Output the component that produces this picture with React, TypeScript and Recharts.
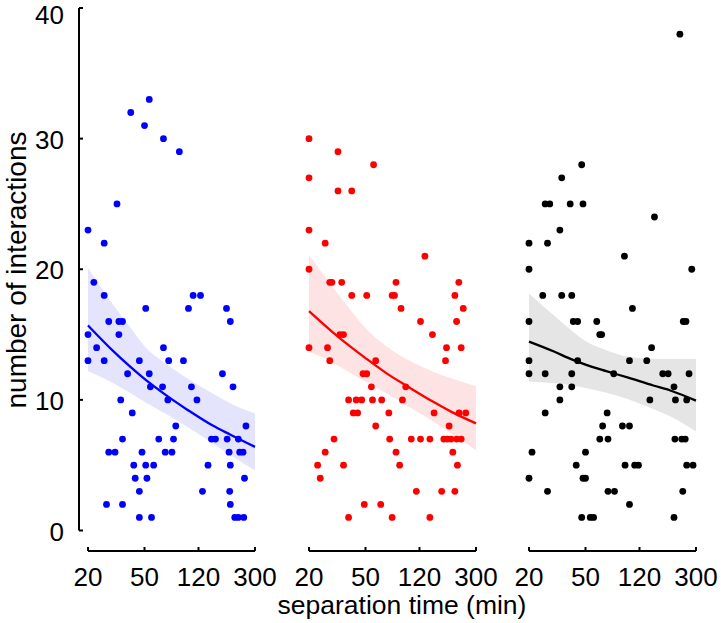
import React from 'react';
import { ComposedChart, Scatter, Line, Area, XAxis, YAxis } from 'recharts';

// ---- axes ----
const xTicks = [20, 50, 120, 300];
const yTicks = [0, 10, 20, 30, 40];
const fitTimes = [20, 30, 40, 50, 70, 100, 150, 200, 300];

// ---- panel 1 (blue) ----
const blueTimes = [
  54, 40, 50, 68, 88, 32, 20, 26, 22,
  26, 110, 124, 51, 102, 189, 28, 33, 35, 201, 20, 33, 23, 68,
  20, 26, 46, 74, 94, 38, 54, 177, 55, 67, 107, 210, 34, 73, 117, 41,
  83, 259, 35, 63, 80, 148, 158, 191, 229,
  28, 31, 48, 70, 78, 197, 234, 247, 42, 51, 58, 140, 201,
  43, 52, 253, 46, 128, 199, 27, 35, 201, 46, 56, 216, 229, 250,
];
const blueCounts = [
  33, 32, 31, 30, 29, 25, 23, 22, 19,
  18, 18, 18, 17, 17, 17, 16, 16, 16, 16, 15, 15, 14, 14,
  13, 13, 13, 13, 13, 12, 12, 12, 11, 11, 11, 11, 10, 10, 10, 9,
  8, 8, 7, 7, 7, 7, 7, 7, 7,
  6, 6, 6, 6, 6, 6, 6, 6, 5, 5, 5, 5, 5,
  4, 4, 4, 3, 3, 3, 2, 2, 2, 1, 1, 1, 1, 1,
];
const blueFit = [15.7, 13.75, 12.5, 11.6, 10.4, 9.25, 8.05, 7.35, 6.4];
const blueLo = [12.2, 11.3, 10.5, 9.85, 8.95, 7.95, 6.7, 5.8, 4.6];
const blueHi = [20.1, 17.3, 15.5, 14.1, 12.8, 11.65, 10.5, 9.75, 8.95];

// ---- panel 2 (red) ----
const redTimes = [
  20, 32, 57, 20, 32, 40, 20, 26, 131, 20,
  28, 29, 34, 82, 227, 40, 51, 77, 80, 213, 89, 244, 122, 219,
  33, 35, 148, 20, 27, 186, 236, 28, 59, 183, 48, 51, 55, 96,
  38, 43, 47, 56, 65, 91, 41, 44, 73, 152, 228, 254, 59, 194,
  30, 74, 105, 122, 142, 178, 188, 200, 219, 236,
  26, 82, 206, 23, 35, 87, 222, 24, 114, 172, 213, 49, 64, 38, 77, 142,
];
const redCounts = [
  30, 29, 28, 27, 26, 26, 23, 22, 21, 20,
  19, 19, 19, 19, 19, 18, 18, 18, 18, 18, 17, 17, 16, 16,
  15, 15, 15, 14, 14, 14, 14, 13, 13, 13, 12, 12, 11, 11,
  10, 10, 10, 10, 10, 10, 9, 9, 9, 9, 9, 9, 8, 8,
  7, 7, 7, 7, 7, 7, 7, 7, 7, 7,
  6, 6, 6, 5, 5, 5, 5, 4, 3, 3, 3, 2, 2, 1, 1, 1,
];
const redFit = [16.8, 15.1, 14.0, 13.2, 12.05, 11.0, 9.85, 9.1, 8.2];
const redLo = [13.7, 12.8, 12.0, 11.4, 10.5, 9.5, 8.35, 7.45, 6.15];
const redHi = [21.1, 18.5, 16.75, 15.5, 14.1, 13.05, 12.15, 11.65, 11.05];

// ---- panel 3 (black) ----
const blackTimes = [
  231, 47, 34, 26, 28, 39, 48, 153, 33, 20, 27, 94, 20, 280,
  25, 34, 40, 107, 20, 41, 44, 60, 244, 255, 63, 65, 146,
  20, 44, 102, 135, 20, 26, 40, 79, 175, 191, 268, 33, 40, 210,
  33, 142, 215, 258, 26, 71, 66, 91, 102, 63, 72, 213, 238, 252,
  21, 50, 43, 95, 111, 118, 258, 286, 20, 48, 50, 27, 72, 80, 242,
  102, 47, 54, 57, 210,
];
const blackCounts = [
  38, 28, 27, 25, 25, 25, 25, 24, 23, 22, 22, 21, 20, 20,
  18, 18, 18, 17, 16, 16, 16, 16, 16, 16, 15, 15, 14,
  13, 13, 13, 13, 12, 12, 12, 12, 12, 12, 12, 11, 11, 11,
  10, 10, 10, 10, 9, 9, 8, 8, 8, 7, 7, 7, 7, 7,
  6, 6, 5, 5, 5, 5, 5, 5, 4, 4, 4, 3, 3, 3, 3,
  2, 1, 1, 1, 1,
];
const blackFit = [14.46, 13.7, 13.1, 12.7, 12.2, 11.7, 11.1, 10.7, 9.94];
const blackLo = [11.4, 11.27, 11.12, 10.9, 10.55, 10.05, 9.3, 8.7, 7.57];
const blackHi = [18.15, 16.45, 15.3, 14.5, 13.8, 13.3, 13.15, 13.13, 13.13];

const FONT = '"Liberation Sans", Arial, Helvetica, sans-serif';

const toPoints = (ts: number[], vs: number[]) => ts.map((t, i) => ({ t, v: vs[i] }));
const toFit = (fit: number[], lo: number[], hi: number[]) =>
  fitTimes.map((t, i) => ({ t, fit: fit[i], band: [lo[i], hi[i]] }));
const yTickRows = yTicks.map((v) => ({ t: 1, v }));

const panels = [
  { left: 63.3, color: '#0000ff', band: '#e4e4fc', points: toPoints(blueTimes, blueCounts), fit: toFit(blueFit, blueLo, blueHi) },
  { left: 284, color: '#ff0000', band: '#fde3e3', points: toPoints(redTimes, redCounts), fit: toFit(redFit, redLo, redHi) },
  { left: 504.3, color: '#000000', band: '#e5e5e5', points: toPoints(blackTimes, blackCounts), fit: toFit(blackFit, blackLo, blackHi) },
];

const Dot = (color: string) => (p: any) => <circle cx={p.cx} cy={p.cy} r={3.4} fill={color} />;
const NoDot = () => <g />;

const YTick = (p: any) => {
  const shift = p.y < 20 ? 7 : 1;
  return (
    <text x={p.x} y={p.y + shift} textAnchor="end" dominantBaseline="central" fontSize={26} fontFamily={FONT} fill="#000">
      {p.payload.value}
    </text>
  );
};

function Panel({ left, color, band, points, fit }: any) {
  return (
    <div style={{ position: 'absolute', left, top: 0 }}>
      <ComposedChart width={217} height={623} margin={{ top: 8, right: 25, bottom: 32, left: 25 }}>
        <XAxis
          dataKey="t"
          type="number"
          scale="log"
          domain={[20, 300]}
          ticks={xTicks}
          interval={0}
          height={40}
          tickSize={-4}
          tickMargin={21}
          axisLine={{ stroke: '#000', strokeWidth: 2 }}
          tickLine={{ stroke: '#000', strokeWidth: 2 }}
          tick={{ fill: '#000', fontSize: 26, fontFamily: FONT }}
        />
        <YAxis type="number" dataKey="v" domain={[0, 40]} hide padding={{ top: 0, bottom: 20.5 }} />
        <Area data={fit} dataKey="band" type="monotone" stroke="none" fill={band} fillOpacity={1} isAnimationActive={false} />
        <Scatter data={points} fill={color} shape={Dot(color)} isAnimationActive={false} />
        <Line data={fit} dataKey="fit" type="monotone" stroke={color} strokeWidth={2.3} dot={false} isAnimationActive={false} />
      </ComposedChart>
    </div>
  );
}

export default function App() {
  return (
    <div style={{ position: 'absolute', left: 0, top: 0, width: 721, height: 623, background: '#fff', overflow: 'hidden' }}>
      <div style={{ position: 'absolute', left: 0, top: 0 }}>
        <ComposedChart width={100} height={623} data={yTickRows} margin={{ top: 8, right: 11, bottom: 92.5, left: 0 }}>
          <XAxis dataKey="t" type="number" domain={[0, 2]} hide />
          <YAxis
            dataKey="v"
            type="number"
            domain={[0, 40]}
            allowDataOverflow
            ticks={yTicks}
            interval={0}
            width={79}
            tickSize={-4}
            tickMargin={19}
            axisLine={{ stroke: '#000', strokeWidth: 2 }}
            tickLine={{ stroke: '#000', strokeWidth: 2 }}
            tick={YTick}
          />
          <Scatter dataKey="v" shape={NoDot} isAnimationActive={false} />
        </ComposedChart>
      </div>
      {panels.map((p, i) => (
        <Panel key={i} {...p} />
      ))}
      <svg width={721} height={623} style={{ position: 'absolute', left: 0, top: 0, pointerEvents: 'none' }}>
        <text x={26} y={270} transform="rotate(-90 26 270)" textAnchor="middle" fontSize={28} fontFamily={FONT} fill="#000">
          number of interactions
        </text>
        <text x={402} y={614} textAnchor="middle" fontSize={26.5} fontFamily={FONT} fill="#000">
          separation time (min)
        </text>
      </svg>
    </div>
  );
}
